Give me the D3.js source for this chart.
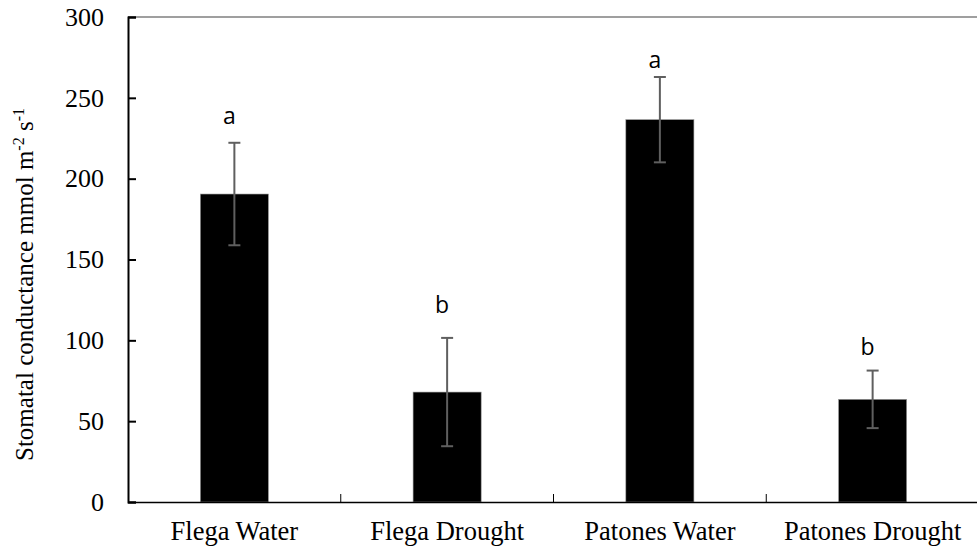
<!DOCTYPE html>
<html>
<head>
<meta charset="utf-8">
<script src="https://cdn.jsdelivr.net/npm/d3@7"></script>
<style>
	body { margin: 0; background: #fff; }
	svg { display: block; }
</style>
</head>
<body>
<script>
'use strict';

// Chart data
const categories = ["Flega Water", "Flega Drought", "Patones Water", "Patones Drought"];
const means = [190.5, 68, 236.5, 63.5];
const errors = [31.7, 33.5, 26.4, 17.8];
const letters = ["a", "b", "a", "b"];
const letterHeights = [233.7, 116.7, 268.2, 90.9];
const yTicks = [0, 50, 100, 150, 200, 250, 300];

const params = {
	width: 977,
	height: 552,
	left: 128,
	right: 979,
	top: 17,
	bottom: 502
};

const svg = d3.select("body")
	.append("svg")
	.attr("width", params.width)
	.attr("height", params.height);

const xScale = d3.scaleBand()
	.domain(categories)
	.range([params.left, params.right])
	.paddingInner(0.68)
	.paddingOuter(0.34);

const yScale = d3.scaleLinear()
	.domain([0, 300])
	.range([params.bottom, params.top]);

// top border of plot area
svg.append("line")
	.attr("x1", params.left).attr("x2", params.width)
	.attr("y1", yScale(300)).attr("y2", yScale(300))
	.attr("stroke", "#7f7f7f")
	.attr("stroke-width", 1.5);

// bars
svg.append("g")
	.selectAll("rect")
	.data(categories)
	.join("rect")
		.attr("x", d => xScale(d))
		.attr("y", (d, i) => yScale(means[i]))
		.attr("width", xScale.bandwidth())
		.attr("height", (d, i) => yScale(0) - yScale(means[i]))
		.attr("fill", "#000")
		.attr("stroke", "#999")
		.attr("stroke-width", 0.6);

// error bars
const errG = svg.append("g")
	.attr("stroke", "#5f5f5f")
	.attr("stroke-width", 2);

categories.forEach((c, i) => {
	const cx = xScale(c) + xScale.bandwidth() / 2;
	const hi = yScale(means[i] + errors[i]);
	const lo = yScale(means[i] - errors[i]);
	errG.append("line").attr("x1", cx).attr("x2", cx).attr("y1", hi).attr("y2", lo);
	errG.append("line").attr("x1", cx - 6).attr("x2", cx + 6).attr("y1", hi).attr("y2", hi);
	errG.append("line").attr("x1", cx - 6).attr("x2", cx + 6).attr("y1", lo).attr("y2", lo);
});

// significance letters
svg.append("g")
	.selectAll("text")
	.data(letters)
	.join("text")
		.attr("x", (d, i) => xScale(categories[i]) + xScale.bandwidth() / 2 - 5)
		.attr("y", (d, i) => yScale(letterHeights[i]))
		.attr("text-anchor", "middle")
		.attr("font-family", "'Open Sans', sans-serif")
		.attr("font-size", 23)
		.attr("fill", "#000")
		.text(d => d);

// y axis
const yAxis = svg.append("g")
	.attr("transform", `translate(${params.left},0)`)
	.call(d3.axisRight(yScale).tickValues(yTicks).tickSize(8).tickFormat(d3.format("d")));
yAxis.select(".domain").attr("stroke", "#000").attr("stroke-width", 2);
yAxis.selectAll(".tick line").attr("stroke", "#000").attr("stroke-width", 2);
yAxis.selectAll(".tick text")
	.attr("x", -24)
	.attr("text-anchor", "end")
	.attr("font-family", "'Liberation Serif', 'Times New Roman', serif")
	.attr("font-size", 26)
	.attr("fill", "#000");

// x axis
const xAxis = svg.append("g")
	.attr("transform", `translate(0,${params.bottom})`)
	.call(d3.axisBottom(xScale).tickSize(0).tickSizeOuter(0));
xAxis.select(".domain").attr("stroke", "#000").attr("stroke-width", 1.5);
xAxis.selectAll(".tick text")
	.attr("y", 38)
	.attr("dy", 0)
	.attr("font-family", "'Liberation Serif', 'Times New Roman', serif")
	.attr("font-size", 26.5)
	.attr("fill", "#000");

// category dividers (inward ticks between bands)
const step = xScale.step();
svg.append("g")
	.selectAll("line")
	.data(categories.slice(1))
	.join("line")
		.attr("x1", d => xScale(d) - step * 0.34)
		.attr("x2", d => xScale(d) - step * 0.34)
		.attr("y1", params.bottom)
		.attr("y2", params.bottom - 8)
		.attr("stroke", "#000")
		.attr("stroke-width", 1);

// y axis title
const title = svg.append("text")
	.attr("transform", "translate(33,461) rotate(-90)")
	.attr("font-family", "'Liberation Serif', 'Times New Roman', serif")
	.attr("font-size", 25)
	.attr("fill", "#000");
title.append("tspan").text("Stomatal conductance mmol m");
title.append("tspan").attr("font-size", 16).attr("dy", -9).text("-2");
title.append("tspan").attr("dy", 9).text(" s");
title.append("tspan").attr("font-size", 16).attr("dy", -9).text("-1");
</script>
</body>
</html>
